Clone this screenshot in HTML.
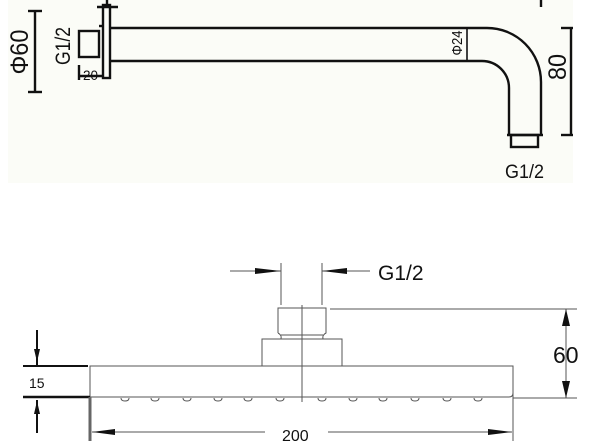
<!DOCTYPE html>
<html><head><meta charset="utf-8"><style>
html,body{margin:0;padding:0;background:#fff;width:600px;height:441px;overflow:hidden}
svg{display:block}
text{font-family:"Liberation Sans",sans-serif}
</style></head><body>
<svg width="600" height="441" viewBox="0 0 600 441" xmlns="http://www.w3.org/2000/svg">
<rect x="8" y="0" width="565" height="183" fill="#fbfcf7"/>
<g stroke="#111" stroke-width="2.4" fill="none">
 <line x1="35" y1="11" x2="35" y2="92"/>
 <line x1="28" y1="11" x2="42" y2="11"/><line x1="28" y1="92" x2="42" y2="92"/>
 <rect x="79" y="31" width="20" height="26"/>
 <line x1="99" y1="26" x2="102" y2="26"/>
 <rect x="103" y="5" width="7" height="73"/>
 <line x1="97" y1="7" x2="118" y2="7"/>
 <line x1="107" y1="0" x2="107" y2="7"/>
 <line x1="79" y1="65" x2="79" y2="80"/>
 <line x1="79" y1="76" x2="103" y2="76"/>
 <path d="M110 28 H487 A54 54 0 0 1 541 82 V135"/>
 <path d="M110 61 H482 A27 27 0 0 1 509 88 V135"/>
 <line x1="507" y1="135" x2="543" y2="135"/>
 <rect x="511" y="135" width="27" height="12"/>
 <line x1="467" y1="28" x2="467" y2="61" stroke-width="1.6"/>
 <line x1="571" y1="28" x2="571" y2="135"/>
 <line x1="561" y1="28" x2="573" y2="28"/><line x1="561" y1="135" x2="573" y2="135"/>
 <line x1="541" y1="0" x2="541" y2="7"/>
</g>
<text transform="translate(28 52) rotate(-90)" font-size="25" text-anchor="middle" fill="#111" textLength="45" lengthAdjust="spacingAndGlyphs">Φ60</text>
<text transform="translate(70 46) rotate(-90)" font-size="21" text-anchor="middle" fill="#111" textLength="38" lengthAdjust="spacingAndGlyphs">G1/2</text>
<text x="83" y="80" font-size="14" fill="#111" textLength="15" lengthAdjust="spacingAndGlyphs">20</text>
<text transform="translate(462 43) rotate(-90)" font-size="15" text-anchor="middle" fill="#111" textLength="25" lengthAdjust="spacingAndGlyphs">Φ24</text>
<text transform="translate(566 67) rotate(-90)" font-size="25" text-anchor="middle" fill="#111" textLength="26" lengthAdjust="spacingAndGlyphs">80</text>
<text x="505" y="178" font-size="19" fill="#111" textLength="39" lengthAdjust="spacingAndGlyphs">G1/2</text>

<g stroke="#555" stroke-width="1" fill="none">
 <line x1="230" y1="271" x2="281" y2="271"/>
 <line x1="322" y1="271" x2="370" y2="271"/>
 <line x1="281" y1="263" x2="281" y2="305"/>
 <line x1="322" y1="263" x2="322" y2="305"/>
 <path d="M278 333 V308 H326 V333 Q322 335 323 339 M278 333 Q282 335 281 339 M281 335 H323"/>
 <rect x="262" y="339" width="80" height="27"/>
 <path d="M90 366 H513 V393 Q513 397 509 397 H90 Z"/>
 <line x1="302" y1="305" x2="302" y2="402"/>
 <line x1="330" y1="309" x2="577" y2="309"/>
 <line x1="513" y1="398" x2="577" y2="398"/>
 <line x1="566" y1="309" x2="566" y2="398"/>
 <line x1="513" y1="366" x2="513" y2="441"/>
 <line x1="92" y1="432" x2="265" y2="432"/>
 <line x1="328" y1="432" x2="512" y2="432"/>
</g>
<g fill="none" stroke="#555" stroke-width="1">
 <path d="M121 398 q0 3 4 3 q4 0 4 -3"/><path d="M151 398 q0 3 4 3 q4 0 4 -3"/>
 <path d="M183 398 q0 3 4 3 q4 0 4 -3"/><path d="M214 398 q0 3 4 3 q4 0 4 -3"/>
 <path d="M244 398 q0 3 4 3 q4 0 4 -3"/><path d="M276 398 q0 3 4 3 q4 0 4 -3"/>
 <path d="M318 398 q0 3 4 3 q4 0 4 -3"/><path d="M349 398 q0 3 4 3 q4 0 4 -3"/>
 <path d="M379 398 q0 3 4 3 q4 0 4 -3"/><path d="M411 398 q0 3 4 3 q4 0 4 -3"/>
 <path d="M443 398 q0 3 4 3 q4 0 4 -3"/><path d="M474 398 q0 3 4 3 q4 0 4 -3"/>
</g>
<g fill="#111">
 <polygon points="255,268 281,271 255,274"/>
 <polygon points="347,268 322,271 347,274"/>
 <polygon points="562,326 566,309 570,326"/>
 <polygon points="562,381 566,398 570,381"/>
 <polygon points="115,429 92,432 115,435"/>
 <polygon points="488,429 512,432 488,435"/>
 <polygon points="34,349 37,362 40,349"/>
 <polygon points="34,414 37,401 40,414"/>
</g>
<g stroke="#111" fill="none">
 <line x1="37" y1="330" x2="37" y2="365" stroke-width="2"/>
 <line x1="37" y1="400" x2="37" y2="433" stroke-width="2"/>
 <line x1="23" y1="366" x2="88" y2="366" stroke-width="2"/>
 <line x1="23" y1="397" x2="90" y2="397" stroke-width="2.5"/>
 <line x1="90" y1="397" x2="90" y2="441" stroke="#666" stroke-width="3"/>
</g>
<text x="378" y="280" font-size="21" fill="#111">G1/2</text>
<text x="553" y="363" font-size="23" fill="#111">60</text>
<text x="29" y="388" font-size="14" fill="#111">15</text>
<text x="282" y="441" font-size="16" fill="#111">200</text>
</svg>
</body></html>
